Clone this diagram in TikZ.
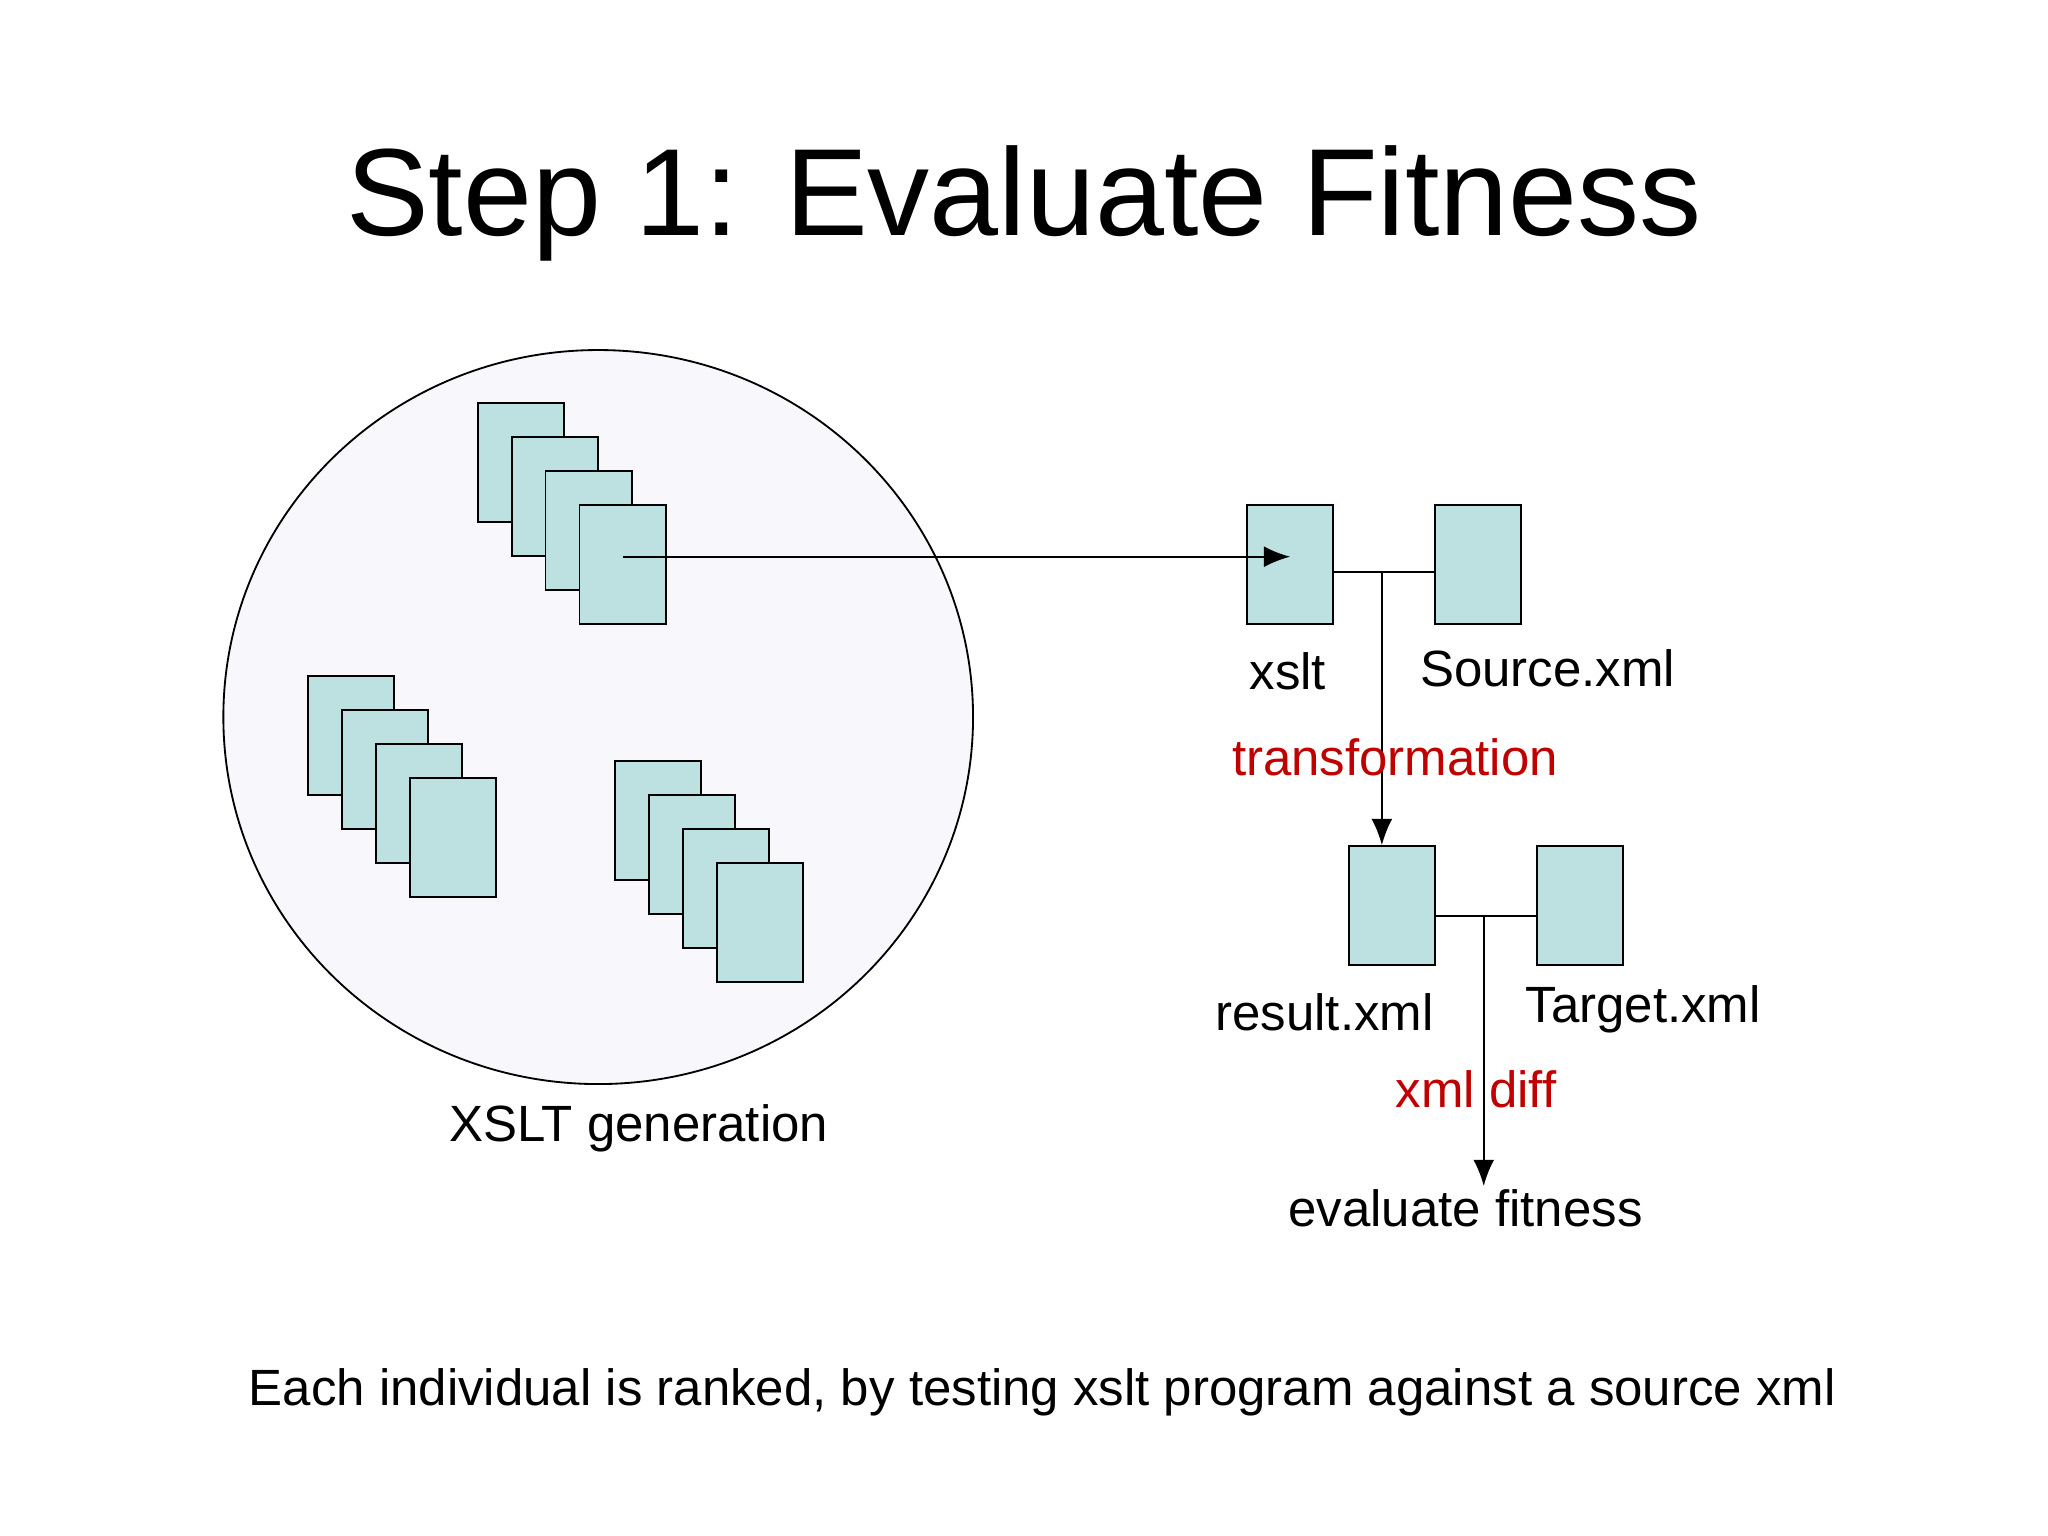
\documentclass[tikz,border=0pt]{standalone}
\usepackage{fontspec}
\setmainfont{Liberation Sans}
\usetikzlibrary{arrows.meta, positioning, calc}
\definecolor{pagefill}{HTML}{BDE0E0}
\definecolor{poolfill}{HTML}{F8F8FC}
\definecolor{labred}{HTML}{C00000}
\tikzset{
  page/.style={draw, fill=pagefill, minimum width=0.66cm, minimum height=0.91cm, inner sep=0pt, anchor=north west},
  lab/.style={font=\fontsize{11.1}{13}\selectfont},
  redlab/.style={lab, text=labred},
  flow/.style={-{Latex[length=2mm, width=1.6mm]}}
}
\begin{document}
\begin{tikzpicture}[x=0.01cm, y=-0.01cm]
  \useasboundingbox (0,0) rectangle (1568,1176);
  \node at (784,156) {\fontsize{27}{31}\selectfont Step 1: Evaluate Fitness};
  % population
  \draw [fill=poolfill] (458,549) ellipse [x radius=287, y radius=281];
  \foreach \i in {0,1,2,3} {
    \node [page] (a\i) at (365+26*\i,308+26*\i) {};
    \node [page] (b\i) at (235+26*\i,517+26*\i) {};
    \node [page] (c\i) at (470+26*\i,582+26*\i) {};
  }
  \node [lab] at (489,864) {XSLT generation};
  % transformation
  \node [page] (xslt) at (954,386) {};
  \node [page] (source) at (1098,386) {};
  \draw (xslt.east |- 0,438) -- (source.west |- 0,438);
  \coordinate (t1) at (1058,438);
  \coordinate (pick) at ($(a3.center)+(0,-6)$);
  \node [page] (result) at (1032,647) {};
  \node [page] (target) at (1176,647) {};
  \draw (result.east |- 0,701) -- (target.west |- 0,701);
  \coordinate (t2) at (1136,701);
  \coordinate (fit) at (1136,908);
  \draw [flow] (pick) -- (pick -| xslt.center);
  \draw [flow] (t1) -- (t1 |- result.north);
  \draw [flow] (t2) -- (fit);
  \node [lab] at (986,514) {xslt};
  \node [lab] at (1185,512) {Source.xml};
  \node [redlab] at (1068,580) {transformation};
  \node [lab] at (1014,775) {result.xml};
  \node [lab] at (1258,773) {Target.xml};
  \node [redlab] at (1130,834) {xml diff};
  \node [lab] at (1122,925) {evaluate fitness};
  \node [lab] at (798,1066) {Each individual is ranked, by testing xslt program against a source xml};
\end{tikzpicture}
\end{document}
